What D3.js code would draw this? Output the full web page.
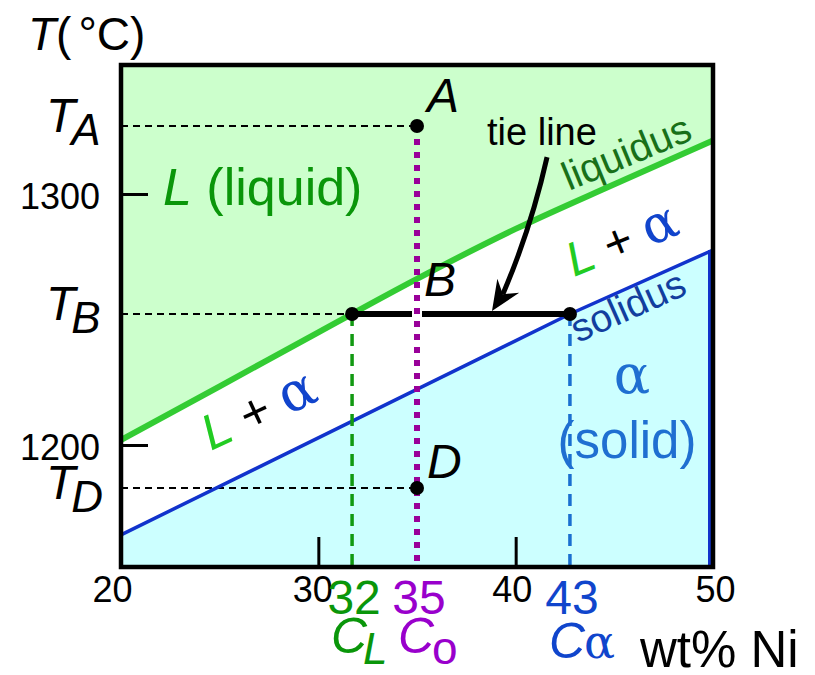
<!DOCTYPE html>
<html><head><meta charset="utf-8">
<script src="https://cdn.jsdelivr.net/npm/d3@7"></script>
<style>body{margin:0;background:#fff} svg{display:block} text{font-family:"Liberation Sans",Arial,Helvetica,sans-serif}</style>
</head><body><svg id="c" width="815" height="675"></svg>
<script>
// ---- data ----
const xTicks = [20, 30, 40, 50];
const yTicks = [1200, 1300];
const liquidusX = [20, 25, 30, 35, 40, 45, 50];
const liquidusT = [1202.0, 1223.4, 1244.9, 1266.2, 1286.1, 1303.9, 1321.3];
const solidusX = [20, 42.75, 50];
const solidusT = [1164.2, 1252.2, 1277.7];
const tempNames = ["A", "B", "D"];
const tempValues = [1327.1, 1252.2, 1182.9];
const compNames = ["L", "o", "α"];
const compValues = [31.71, 35, 42.75];
const compLabels = ["32", "35", "43"];
const arrowFrom = [41.59, 1314.7];
const arrowTo = [38.80, 1253.4];

const svg = d3.select("#c");
const x = d3.scaleLinear([20, 50], [121, 713]);
const y = d3.scaleLinear([1151.4, 1351.4], [567, 65]);
const [tMin, tMax] = y.domain();
const SERIF = "DejaVu Serif, Liberation Serif, serif";

const liq = liquidusX.map((v, i) => [v, liquidusT[i]]);
const sol = solidusX.map((v, i) => [v, solidusT[i]]);
const [TA, TB, TD] = tempValues;
const [cL, c0, cA] = compValues;

// fills
svg.append("path").datum(liq)
  .attr("d", d3.area().x(d => x(d[0])).y0(y(tMax)).y1(d => y(d[1])).curve(d3.curveMonotoneX))
  .attr("fill", "#ccffcc");
svg.append("path").datum(sol)
  .attr("d", d3.area().x(d => x(d[0])).y0(y(tMin)).y1(d => y(d[1])))
  .attr("fill", "#ccffff");

// black dashed temperature guides
[[TA, c0], [TB, cL], [TD, c0]].forEach(([t, c]) => {
  svg.append("line").attr("x1", x(20)).attr("x2", x(c)).attr("y1", y(t)).attr("y2", y(t))
    .attr("stroke", "#000").attr("stroke-width", 2).attr("stroke-dasharray", "7,5");
});

// liquidus & solidus
svg.append("path").datum(liq)
  .attr("d", d3.line().x(d => x(d[0])).y(d => y(d[1])).curve(d3.curveMonotoneX))
  .attr("fill", "none").attr("stroke", "#33cc33").attr("stroke-width", 6);
svg.append("path").datum(sol)
  .attr("d", d3.line().x(d => x(d[0])).y(d => y(d[1])))
  .attr("fill", "none").attr("stroke", "#1133cc").attr("stroke-width", 3.5);
svg.append("line").attr("x1", x(50) - 3).attr("x2", x(50) - 3)
  .attr("y1", y(solidusT[solidusT.length - 1])).attr("y2", y(tMin))
  .attr("stroke", "#1133cc").attr("stroke-width", 4);

// vertical composition guides
svg.append("line").attr("x1", x(cL)).attr("x2", x(cL)).attr("y1", y(TB)).attr("y2", y(tMin))
  .attr("stroke", "#119911").attr("stroke-width", 3.5).attr("stroke-dasharray", "12,8");
svg.append("line").attr("x1", x(cA)).attr("x2", x(cA)).attr("y1", y(TB)).attr("y2", y(tMin))
  .attr("stroke", "#1a6fd0").attr("stroke-width", 3.5).attr("stroke-dasharray", "12,8");

// tie line
svg.append("line").attr("x1", x(cL)).attr("x2", x(cA)).attr("y1", y(TB)).attr("y2", y(TB))
  .attr("stroke", "#000").attr("stroke-width", 6);
svg.append("line").attr("x1", x(c0)).attr("x2", x(c0)).attr("y1", y(TB) - 4).attr("y2", y(TB) + 4)
  .attr("stroke", "#fff").attr("stroke-width", 10);

// purple dotted
svg.append("line").attr("x1", x(c0)).attr("x2", x(c0)).attr("y1", y(TA)).attr("y2", y(tMin))
  .attr("stroke", "#990099").attr("stroke-width", 6).attr("stroke-dasharray", "6,7");

// frame
svg.append("rect").attr("x", x(20)).attr("y", y(tMax)).attr("width", x(50) - x(20)).attr("height", y(tMin) - y(tMax))
  .attr("fill", "none").attr("stroke", "#000").attr("stroke-width", 4.5);

// axes
const yAx = svg.append("g").attr("transform", `translate(${x(20)},0)`)
  .call(d3.axisLeft(y).tickValues(yTicks).tickSizeInner(-27).tickSizeOuter(0).tickPadding(21).tickFormat(d3.format("d")));
yAx.select(".domain").remove();
yAx.selectAll("line").attr("stroke", "#000").attr("stroke-width", 3);
yAx.selectAll("text").attr("font-size", 36).attr("font-family", "Liberation Sans, Arial, sans-serif").attr("fill", "#000").attr("dy", "0.4em");

const xAx = svg.append("g").attr("transform", `translate(0,${y(tMin)})`)
  .call(d3.axisBottom(x).tickValues(xTicks).tickSizeInner(-30).tickSizeOuter(0).tickPadding(9).tickFormat(d3.format("d")));
xAx.select(".domain").remove();
xAx.selectAll("line").attr("stroke", "#000").attr("stroke-width", 3)
  .attr("display", d => (d === 20 || d === 50) ? "none" : null);
const xShift = {20: -9, 30: -6, 40: -4, 50: 2};
xAx.selectAll("text").attr("font-size", 36).attr("font-family", "Liberation Sans, Arial, sans-serif").attr("fill", "#000")
  .attr("dx", d => xShift[d]);

// points
[[cL, TB], [cA, TB], [c0, TA], [c0, TD]].forEach(([c, t]) => {
  svg.append("circle").attr("cx", x(c)).attr("cy", y(t)).attr("r", 7).attr("fill", "#000");
});

// arrow
{
  const p0 = [x(arrowFrom[0]), y(arrowFrom[1])];
  const tip = [x(arrowTo[0]), y(arrowTo[1])];
  const dir = [-15.5, 24];
  const len = Math.hypot(dir[0], dir[1]);
  const u = [dir[0] / len, dir[1] / len];
  const ang = Math.atan2(u[1], u[0]) * 180 / Math.PI;
  const notch = [tip[0] - 20 * u[0], tip[1] - 20 * u[1]];
  const ctrl = [(p0[0] + notch[0]) / 2 + 6, (p0[1] + notch[1]) / 2 + 3];
  svg.append("path").attr("d", `M${p0[0]},${p0[1]} Q${ctrl[0]},${ctrl[1]} ${notch[0]},${notch[1]}`)
    .attr("fill", "none").attr("stroke", "#000").attr("stroke-width", 5);
  svg.append("path").attr("d", "M0,0 L-30,-13 L-20,0 L-30,13 Z")
    .attr("transform", `translate(${tip[0]},${tip[1]}) rotate(${ang})`).attr("fill", "#000");
}

// ---- text ----
function txt(xp, yp, opts = {}) {
  const t = svg.append("text").attr("x", xp).attr("y", yp)
    .attr("font-size", opts.size || 36).attr("fill", opts.fill || "#000");
  if (opts.anchor) t.attr("text-anchor", opts.anchor);
  if (opts.rotate) t.attr("transform", `rotate(${opts.rotate},${xp},${yp})`);
  return t;
}
function span(t, s, o = {}) {
  const sp = t.append("tspan").text(s);
  if (o.italic) sp.attr("font-style", "italic");
  if (o.fill) sp.attr("fill", o.fill);
  if (o.size) sp.attr("font-size", o.size);
  if (o.dy) sp.attr("dy", o.dy);
  if (o.dx) sp.attr("dx", o.dx);
  if (o.serif) sp.attr("font-family", SERIF);
  return sp;
}

// title
{ const t = txt(28, 50, {size: 46}); span(t, "T", {italic: true}); span(t, "("); span(t, "°C)", {dx: 7}); }

// T labels
const tOff = [6, 6, 11];
[[TA, "A"], [TB, "B"], [TD, "D"]].forEach(([tv, n], i) => {
  const t = txt(46, y(tv) + tOff[i], {size: 48});
  span(t, "T", {italic: true});
  span(t, n, {italic: true, size: 44, dy: 13, dx: -4});
});

// L (liquid)
{ const t = txt(163, 205, {size: 52, fill: "#0a960a"}); span(t, "L", {italic: true}); span(t, " (liquid)"); }

// point labels
txt(x(c0) + 10, y(TA) - 14, {size: 48}).append("tspan").attr("font-style", "italic").text(tempNames[0]);
txt(x(c0) + 7, y(TB) - 18, {size: 48}).append("tspan").attr("font-style", "italic").text(tempNames[1]);
txt(x(c0) + 10, y(TD) - 10, {size: 48}).append("tspan").attr("font-style", "italic").text(tempNames[2]);

txt(487, 145, {size: 38}).text("tie line");

txt(569, 191, {size: 40, fill: "#187018", rotate: -22.5}).text("liquidus");
txt(578, 343, {size: 39, fill: "#123e9e", rotate: -24}).text("solidus");

// L + α labels
{ const t = txt(574, 277, {size: 48, rotate: -22});
  span(t, "L", {italic: true, fill: "#22cc22"}); span(t, " + ", {fill: "#000"}); span(t, "α", {fill: "#1144cc", serif: true, size: 52}); }
{ const t = txt(211, 451, {size: 50, rotate: -25});
  span(t, "L", {italic: true, fill: "#22cc22"}); span(t, " + ", {fill: "#000"}); span(t, "α", {fill: "#1144cc", serif: true, size: 54}); }

// α (solid)
txt(632, 393, {size: 54, fill: "#1f6fd1", anchor: "middle"}).append("tspan")
  .attr("font-family", SERIF).text("α");
txt(627, 458, {size: 51, fill: "#1f6fd1", anchor: "middle"}).text("(solid)");

// composition labels
const compColors = ["#0a960a", "#9900cc", "#1045cc"];
compValues.forEach((c, i) => {
  txt(x(c) + 2, 614, {size: 48, fill: compColors[i], anchor: "middle"}).text(compLabels[i]);
});
{ const t = txt(331, 653, {size: 50, fill: compColors[0]});
  span(t, "C", {italic: true}); span(t, compNames[0], {italic: true, size: 44, dy: 11, dx: -4}); }
{ const t = txt(398, 653, {size: 50, fill: compColors[1]});
  span(t, "C", {italic: true}); span(t, compNames[1], {size: 46, dy: 11, dx: -2}); }
{ const t = txt(549, 658, {size: 50, fill: compColors[2]});
  span(t, "C", {italic: true}); span(t, compNames[2], {size: 46, serif: true, dx: -1}); }

txt(640, 667, {size: 51}).text("wt% Ni");
</script></body></html>
